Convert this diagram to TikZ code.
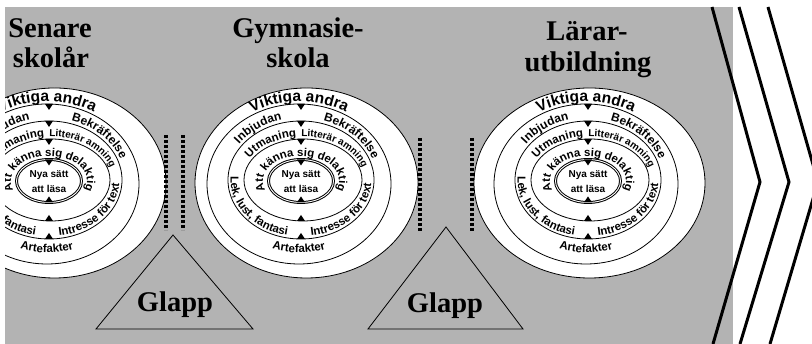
\documentclass[tikz,border=0pt]{standalone}
\usepackage{fontspec}
\setmainfont{Liberation Serif}
\setsansfont{Liberation Sans}
\usetikzlibrary{decorations.text}
\definecolor{bggrey}{RGB}{179,179,179}
\newcommand\rfbig{\sffamily\bfseries\fontsize{15.5}{17}\selectfont}
\newcommand\rfmid{\sffamily\bfseries\fontsize{12}{13}\selectfont}
\newcommand\rfsmall{\sffamily\bfseries\fontsize{11.5}{12}\selectfont}
\newcommand\rftiny{\sffamily\bfseries\fontsize{10}{11}\selectfont}
\tikzset{
  ring/.style={draw=black, line width=0.8pt},
  innerring/.style={draw=black, line width=1pt, double=white, double distance=0.9pt},
  ringtext/.style={decorate, decoration={text along path, text align=center, text={#1}}},
  nyatext/.style={font=\sffamily\bfseries\fontsize{10}{11}\selectfont, inner sep=0pt},
  title/.style={font=\bfseries\fontsize{28.5}{31}\selectfont, anchor=base, inner sep=0pt},
  dotline/.style={line width=3.6pt, dash pattern=on 3pt off 2pt},
  chev/.style={line width=3pt, line join=miter},
  gaptri/.style={draw=black, line width=0.8pt}
}
\newcommand\ringdiagram[4]{%
  \begin{scope}[shift={(#1,163)}]
    \draw[ring, fill=white] (#2,-2) ellipse [x radius=#3pt, y radius=95pt];
    \draw[ring] (-2,-3) ellipse [x radius=92pt, y radius=80pt];
    \draw[ring] (0,1) ellipse [x radius=73pt, y radius=59pt];
    \draw[ring] (2,1) ellipse [x radius=59pt, y radius=41pt];
    \draw[innerring] (0,0) ellipse [x radius=32.5pt, y radius=21.5pt];
    \fill (-4,77) -- (4,77) -- (0,71) -- cycle;
    \fill (-4,60) -- (4,60) -- (0,54) -- cycle;
    \fill (-4,42) -- (4,42) -- (0,36) -- cycle;
    \fill (-4,21.5) -- (4,21.5) -- (0,15.5) -- cycle;
    \fill (-4,-21.5) -- (4,-21.5) -- (0,-15.5) -- cycle;
    \fill (-4,-40) -- (4,-40) -- (0,-34) -- cycle;
    \fill (-4,-58) -- (4,-58) -- (0,-52) -- cycle;
    \node[nyatext] (#4a) at (0,5.5) {Nya sätt};
    \node[nyatext] (#4b) at (0,-7.5) {att läsa};
    \path[ringtext={|\rfbig|Viktiga andra}] ([shift={(-2,-3)}]135:95 and 82.5) arc[start angle=135, end angle=45, x radius=95pt, y radius=82.5pt];
    \path[ringtext={|\rfmid|Inbjudan}] ([shift={(0,1)}]165:76 and 62) arc[start angle=165, end angle=87, x radius=76pt, y radius=62pt];
    \path[ringtext={|\rfmid|Bekräftelse}] ([shift={(0,1)}]85:76 and 62) arc[start angle=85, end angle=5, x radius=76pt, y radius=62pt];
    \path[ringtext={|\rfsmall|Artefakter}] ([shift={(-2,-3)}]235:84 and 68.5) arc[start angle=235, end angle=305, x radius=84pt, y radius=68.5pt];
    \path[ringtext={|\rfsmall|Utmaning}] ([shift={(2,1)}]165:61.5 and 43.5) arc[start angle=165, end angle=85, x radius=61.5pt, y radius=43.5pt];
    \path[ringtext={|\rftiny|Litterär amning}] ([shift={(2,1)}]100:61.5 and 43.5) arc[start angle=100, end angle=4, x radius=61.5pt, y radius=43.5pt];
    \path[ringtext={|\rfsmall|Lek, lust, fantasi}] ([shift={(0,1)}]160:70.5 and 56.5) arc[start angle=160, end angle=272, x radius=70.5pt, y radius=56.5pt];
    \path[ringtext={|\rfsmall|Intresse för text}] ([shift={(0,1)}]272:70.5 and 56.5) arc[start angle=272, end angle=364, x radius=70.5pt, y radius=56.5pt];
    \path[ringtext={|\rfsmall|Att känna sig delaktig}] (220:38 and 25) arc[start angle=220, end angle=-40, x radius=38pt, y radius=25pt];
  \end{scope}}
\begin{document}
\begin{tikzpicture}[x=1pt,y=1pt]
  \useasboundingbox (0,0) rectangle (812,344);
  \fill[bggrey] (5,0) rectangle (733,337);
  % gap triangles
  \coordinate (t1a) at (173,109); \coordinate (t1b) at (96,15); \coordinate (t1c) at (253,15);
  \coordinate (t2a) at (446,117); \coordinate (t2b) at (368,15); \coordinate (t2c) at (523,15);
  \draw[gaptri] (t1a) -- (t1b) -- (t1c) -- cycle;
  \draw[gaptri] (t2a) -- (t2b) -- (t2c) -- cycle;
  \node[title] (glapp1) at (175,32) {Glapp};
  \node[title] (glapp2) at (445,31) {Glapp};
  % ring diagrams
  \begin{scope}
    \clip (5,0) rectangle (400,344);
    \ringdiagram{49}{5.5}{111.5}{L}
  \end{scope}
  \ringdiagram{301}{5.5}{111.5}{M}
  \ringdiagram{588}{1.5}{115.5}{R}
  % dotted separators
  \coordinate (d1t) at (166,209); \coordinate (d1b) at (166,114);
  \coordinate (d2t) at (183,209); \coordinate (d2b) at (183,114);
  \coordinate (d3t) at (420,206); \coordinate (d3b) at (420,112);
  \coordinate (d4t) at (472,206); \coordinate (d4b) at (472,112);
  \draw[dotline] (d1t) -- (d1b);
  \draw[dotline] (d2t) -- (d2b);
  \draw[dotline] (d3t) -- (d3b);
  \draw[dotline] (d4t) -- (d4b);
  % titles
  \node[title] (s1) at (50,306) {Senare};
  \node[title] (s2) at (51,276) {skolår};
  \node[title] (g1) at (298,306) {Gymnasie-};
  \node[title] (g2) at (298,276) {skola};
  \node[title] (l1) at (587,303) {Lärar-};
  \node[title] (l2) at (588,272) {utbildning};
  % chevrons
  \begin{scope}
    \clip (0,0) rectangle (812,344);
    \coordinate (c1a) at (712,337); \coordinate (c1b) at (760,162); \coordinate (c1c) at (713,0);
    \coordinate (c2a) at (739,337); \coordinate (c2b) at (789,162); \coordinate (c2c) at (740,0);
    \coordinate (c3a) at (768,337); \coordinate (c3b) at (818,162); \coordinate (c3c) at (770,0);
    \draw[chev] (c1a) -- (c1b) -- (c1c);
    \draw[chev] (c2a) -- (c2b) -- (c2c);
    \draw[chev] (c3a) -- (c3b) -- (c3c);
  \end{scope}
\end{tikzpicture}
\end{document}
